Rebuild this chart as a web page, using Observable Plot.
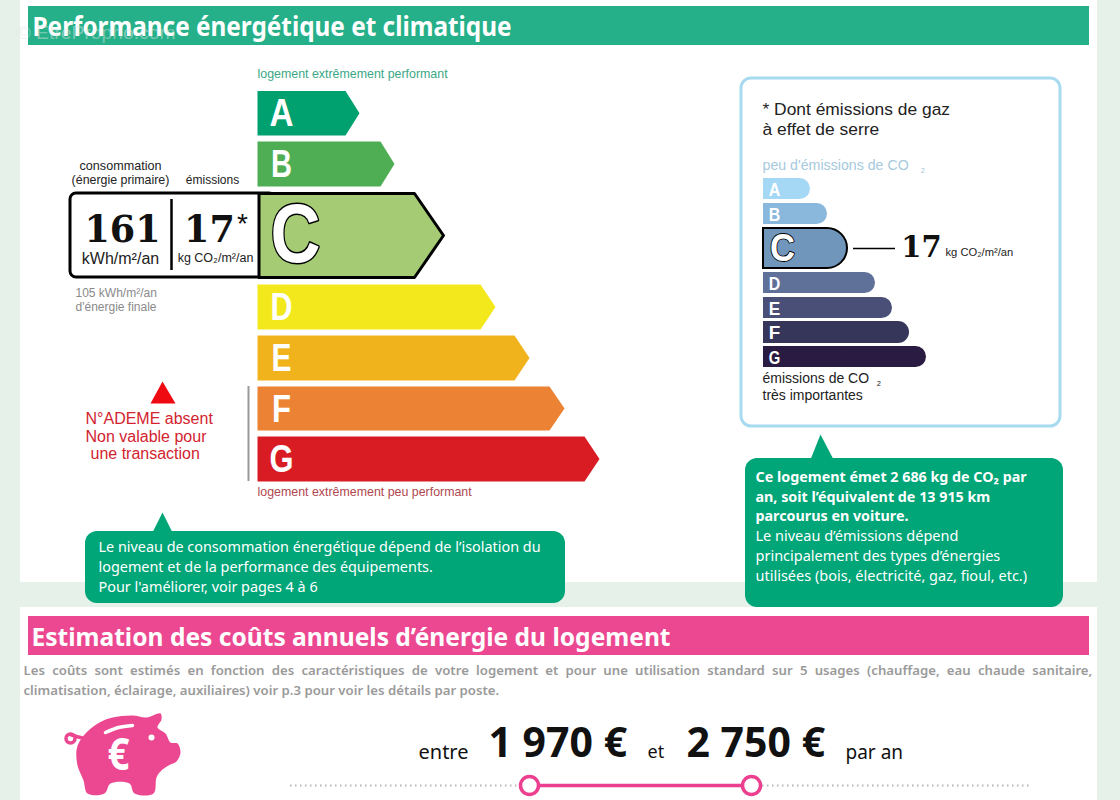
<!DOCTYPE html>
<html lang="fr">
<head>
<meta charset="utf-8">
<title>Performance énergétique et climatique</title>
<script src="https://cdn.jsdelivr.net/npm/d3@7"></script>
<script src="https://cdn.jsdelivr.net/npm/@observablehq/plot@0.6"></script>
<style>html,body{margin:0;padding:0;background:#e6f1ea}svg{display:block}</style>
</head>
<body>
<div id="chart"></div>
<script>
// ---- values
const energyClasses = ["A","B","C","D","E","F","G"];
const energyBarEnd  = [359,394,443,495,529,564,599];
const co2Classes    = ["A","B","C","D","E","F","G"];
const co2BarEnd     = [810,827,847,875,892,909,926];
const primaryEnergy = "161";
const co2Emission   = "17";
const costLow = "1 970 €";
const costHigh = "2 750 €";

// ---- colours
const energyColors = ["#00a06f","#4fae54","#a5cc74","#f3e81c","#f1b31c","#ec8234","#d91c23"];
const co2Colors    = ["#a5d8f5","#8ab8dc","#7096bc","#5f7199","#4a4f78","#36355a","#2a1b42"];

// ---- layout (frame in page pixels)
const energyTop = [90.5,141,193,284,335,386,436];
const energyBottom = [135,186,277,329,380,430,481];
const energyTip = [14,14,29,15,15,15,15];
const co2Top = [178,203,228,272,297,321,346];
const co2Bottom = [199,224,268,293,318,343,367];
const energyStart = 257, co2Start = 763;
const sans = "Liberation Sans", body = "Noto Sans", slab = "DejaVu Serif";

const energyRows = energyClasses.map((k,i)=>({k,i,end:energyBarEnd[i],top:energyTop[i],bottom:energyBottom[i],tip:energyTip[i],color:energyColors[i]}));
const co2Rows = co2Classes.map((k,i)=>({k,i,end:co2BarEnd[i],top:co2Top[i],bottom:co2Bottom[i],color:co2Colors[i]}));
const arrow = r => [[energyStart,r.top],[r.end-r.tip,r.top],[r.end,(r.top+r.bottom)/2],[r.end-r.tip,r.bottom],[energyStart,r.bottom]];
const poly = (pts,o) => Plot.line(pts,{x:d=>d[0],y:d=>d[1],stroke:"none",...o});
const T = (text,x,y,o) => Plot.text([text],{x:()=>x,y:()=>y,text:d=>d,textAnchor:"start",fontFamily:sans,fill:"#222",...o});

const panels = [{x1:20,x2:1097,y1:0,y2:582},{x1:20,x2:1097,y1:607,y2:800}];
const pig = [[79,741],[88,730],[99,722],[112,717],[132,715],[146,717],[160,713],[161,719],[157,727],[165,733],[170,742],[177,743],[180,752],[176,761],[168,765],[160,771],[156,777],[153,793],[134,793],[129,783],[110,783],[104,793],[87,793],[83,780],[77,765],[76,750]];

const marks = [
  Plot.rect(panels,{x1:"x1",x2:"x2",y1:"y1",y2:"y2",fill:"white"}),
  // headers
  Plot.rect([0],{x1:()=>28,x2:()=>1089,y1:()=>6,y2:()=>45,fill:"#26b089"}),
  Plot.rect([0],{x1:()=>28,x2:()=>1089,y1:()=>616,y2:()=>655,fill:"#ec4891"}),
  T("Performance énergétique et climatique",32,27,{fill:"white",fontFamily:body,fontWeight:700,fontSize:26}),
  T("© EtrePropho.com",16,33,{fill:"#dfe6e4",fontFamily:sans,fontSize:18,fillOpacity:0.45}),
  T("Estimation des coûts annuels d’énergie du logement",31,637,{fill:"white",fontFamily:body,fontWeight:700,fontSize:25.5}),

  // energy scale
  T("logement extrêmement performant",257,74,{fill:"#3aa886",fontSize:12.4}),
  T("logement extrêmement peu performant",257,492,{fill:"#b0474f",fontSize:12.4}),
  Plot.rect([0],{x1:()=>70,x2:()=>275,y1:()=>193,y2:()=>277,fill:"white",stroke:"black",strokeWidth:3,rx:6}),
  ...energyRows.filter(r=>r.k!=="C").map(r=>poly(arrow(r),{fill:r.color})),
  poly(arrow({...energyRows[2],top:193,bottom:277}).map(([x,y])=>[x===energyStart?258.5:x,y]).concat([[258.5,193]]),{fill:energyColors[2],stroke:"black",strokeWidth:3}),
  Plot.text(energyRows.filter(r=>r.k!=="C"),{x:()=>281,y:r=>(r.top+r.bottom)/2+1,text:"k",fill:"white",fontFamily:sans,fontWeight:700,fontSize:38}),
  Plot.text(["C"],{x:()=>295,y:()=>235,text:d=>d,fill:"white",stroke:"black",strokeWidth:3,fontFamily:sans,fontWeight:700,fontSize:84}),

  // value box
  T("consommation",120,165,{textAnchor:"middle",fontSize:12.6}),
  T("(énergie primaire)",120,180,{textAnchor:"middle",fontSize:12.4}),
  T("émissions",212,180,{textAnchor:"middle",fontSize:12}),
  Plot.ruleX([0],{x:()=>171,y1:()=>199,y2:()=>270,stroke:"black",strokeWidth:2.5}),
  T(primaryEnergy,122,230,{textAnchor:"middle",fontFamily:slab,fontWeight:700,fontSize:36.5,fill:"#111"}),
  T(co2Emission,209,230,{textAnchor:"middle",fontFamily:slab,fontWeight:700,fontSize:36.5,fill:"#111"}),
  T("*",242,224,{textAnchor:"middle",fontSize:28,fill:"#111"}),
  T("kWh/m²/an",120,258,{textAnchor:"middle",fontSize:16}),
  T("kg CO₂/m²/an",215,257,{textAnchor:"middle",fontSize:12.5}),
  T("105 kWh/m²/an",75,293,{fill:"#8a8a8a",fontSize:12}),
  T("d'énergie finale",75,307,{fill:"#8a8a8a",fontSize:12}),

  // warning
  poly([[150,403],[162,381],[175,403]],{fill:"#ee0a10"}),
  T("N°ADEME absent",85,418,{fill:"#d2232f",fontSize:16}),
  T("Non valable pour",85,436,{fill:"#d2232f",fontSize:16}),
  T("une transaction",90,453,{fill:"#d2232f",fontSize:16}),
  Plot.ruleX([0],{x:()=>248,y1:()=>386,y2:()=>481,stroke:"#999",strokeWidth:2}),

  // left callout
  poly([[152,532],[162,512],[172,532]],{fill:"#00a578"}),
  Plot.rect([0],{x1:()=>85,x2:()=>565,y1:()=>531,y2:()=>603,fill:"#00a578",rx:12}),
  ...["Le niveau de consommation énergétique dépend de l’isolation du","logement et de la performance des équipements.","Pour l'améliorer, voir pages 4 à 6"].map((s,i)=>
    T(s,98,547+20*i,{fill:"white",fontFamily:body,fontSize:14.4})),

  // CO2 box
  Plot.rect([0],{x1:()=>741,x2:()=>1060,y1:()=>78,y2:()=>426,fill:"white",stroke:"#a8dbf0",strokeWidth:3,rx:10}),
  T("* Dont émissions de gaz",762,109,{fontSize:17.4}),
  T("à effet de serre",762,129,{fontSize:17.4}),
  T("peu d'émissions de CO",762,165,{fill:"#a6c9dd",fontSize:14.2}),
  T("₂",920,168,{fill:"#a6c9dd",fontSize:12}),
  T("émissions de CO",762,378,{fontSize:14}),
  T("₂",876,381,{fontSize:12}),
  T("très importantes",762,395,{fontSize:14}),
  ...co2Rows.flatMap(r=>[
    Plot.rect([r],{x1:()=>co2Start,x2:d=>d.end,y1:"top",y2:"bottom",fill:"color",rx:(r.bottom-r.top)/2,stroke:r.k==="C"?"black":"none",strokeWidth:2}),
    Plot.rect([r],{x1:()=>co2Start,x2:d=>(co2Start+d.end)/2,y1:"top",y2:"bottom",fill:"color",stroke:r.k==="C"?"black":"none",strokeWidth:2})
  ]),
  Plot.rect([co2Rows[2]],{x1:()=>co2Start+1.2,x2:d=>(co2Start+d.end)/2+3,y1:d=>d.top+1,y2:d=>d.bottom-1,fill:"color"}),
  Plot.text(co2Rows.filter(r=>r.k!=="C"),{x:()=>774,y:r=>(r.top+r.bottom)/2+1,text:"k",fill:"white",fontFamily:sans,fontWeight:700,fontSize:18}),
  Plot.text(["C"],{x:()=>782,y:()=>248,text:d=>d,fill:"white",stroke:"black",strokeWidth:1.8,fontFamily:sans,fontWeight:700,fontSize:38}),
  Plot.ruleY([0],{y:()=>248,x1:()=>853,x2:()=>895,stroke:"black",strokeWidth:1.5}),
  T(co2Emission,921,247,{textAnchor:"middle",fontFamily:slab,fontWeight:700,fontSize:29,fill:"#111"}),
  T("kg CO₂/m²/an",945,252,{fontSize:11.2}),

  // right callout
  poly([[810,459],[820,434],[833,459]],{fill:"#00a578"}),
  Plot.rect([0],{x1:()=>745,x2:()=>1063,y1:()=>458,y2:()=>607,fill:"#00a578",rx:12}),
  ...["Ce logement émet 2 686 kg de CO₂ par","an, soit l’équivalent de 13 915 km","parcourus en voiture."].map((s,i)=>
    T(s,755,477+19.7*i,{fill:"white",fontFamily:body,fontWeight:700,fontSize:14.3})),
  ...["Le niveau d’émissions dépend","principalement des types d’énergies","utilisées (bois, électricité, gaz, fioul, etc.)"].map((s,i)=>
    T(s,755,536+19.8*i,{fill:"white",fontFamily:body,fontSize:14.5})),

  // costs paragraph
  T("Les coûts sont estimés en fonction des caractéristiques de votre logement et pour une utilisation standard sur 5 usages (chauffage, eau chaude sanitaire,",23,670,{fill:"#9a9a9a",fontFamily:body,fontWeight:600,fontSize:13.2}),
  T("climatisation, éclairage, auxiliaires) voir p.3 pour voir les détails par poste.",23,690,{fill:"#9a9a9a",fontFamily:body,fontWeight:600,fontSize:13.2}),

  // piggy bank
  poly(pig,{fill:"#ec4891",curve:"catmull-rom-closed"}),
  Plot.line([[70,734],[76,736],[84,738]],{x:d=>d[0],y:d=>d[1],stroke:"#ec4891",strokeWidth:3.5}),
  Plot.dot([0],{x:()=>70,y:()=>738,r:4.5,fill:"none",stroke:"#ec4891",strokeWidth:3.5}),
  Plot.dot([0],{x:()=>151,y:()=>737,r:3,fill:"white"}),
  Plot.line([[105,732],[118,727],[132,725]],{x:d=>d[0],y:d=>d[1],stroke:"white",strokeWidth:3.5,curve:"catmull-rom"}),
  T("€",118,755,{textAnchor:"middle",fill:"white",fontFamily:body,fontWeight:700,fontSize:44}),

  // cost range
  T("entre",418,752,{fontFamily:body,fontSize:20,fill:"#111"}),
  T(costLow,488,743,{fontFamily:body,fontWeight:700,fontSize:41,fill:"#111"}),
  T("et",647,752,{fontFamily:body,fontSize:18,fill:"#111"}),
  T(costHigh,686,743,{fontFamily:body,fontWeight:700,fontSize:41,fill:"#111"}),
  T("par an",845,752,{fontFamily:body,fontSize:19,fill:"#111"}),
  Plot.ruleY([0],{y:()=>785,x1:()=>290,x2:()=>520,stroke:"#b5b5b5",strokeWidth:2,strokeDasharray:"1.5 3.5"}),
  Plot.ruleY([0],{y:()=>785,x1:()=>762,x2:()=>1032,stroke:"#b5b5b5",strokeWidth:2,strokeDasharray:"1.5 3.5"}),
  Plot.ruleY([0],{y:()=>785,x1:()=>529,x2:()=>751,stroke:"#ec3f8f",strokeWidth:3.5}),
  Plot.dot([529,751],{x:d=>d,y:()=>785,r:9,fill:"white",stroke:"#ec3f8f",strokeWidth:3.5})
];

const chart = Plot.plot({
  width:1120,height:800,margin:0,
  style:{background:"#e6f1ea",overflow:"hidden"},
  x:{domain:[0,1120],range:[0,1120],axis:null},
  y:{domain:[0,800],range:[0,800],axis:null},
  marks
});
// fit widths of text to the narrower face of the reference
const fitted = new Map([
  ["Performance énergétique et climatique",479],
  ["Estimation des coûts annuels d’énergie du logement",639],
  ["© EtrePropho.com",159],
  ["€",22]
]);
const letterWidth = {A:24,B:21,D:22,E:20,F:19,G:24};
const texts = d3.select(chart).selectAll("text");
texts.each(function(){
  const s = this.textContent, el = d3.select(this);
  const size = parseFloat(getComputedStyle(this.parentNode).fontSize) || 0;
  let len = fitted.get(s);
  if (s === "C") len = this.parentNode.getAttribute("font-size") > 60 ? 50 : 25;
  else if (letterWidth[s]) len = this.parentNode.getAttribute("font-size") > 30 ? letterWidth[s] : 11.5;
  if (len) el.attr("textLength",len).attr("lengthAdjust","spacingAndGlyphs");
  if (s.startsWith("Les coûts")) el.attr("word-spacing","3.8");
});
document.getElementById("chart").append(chart);
</script>
</body>
</html>
